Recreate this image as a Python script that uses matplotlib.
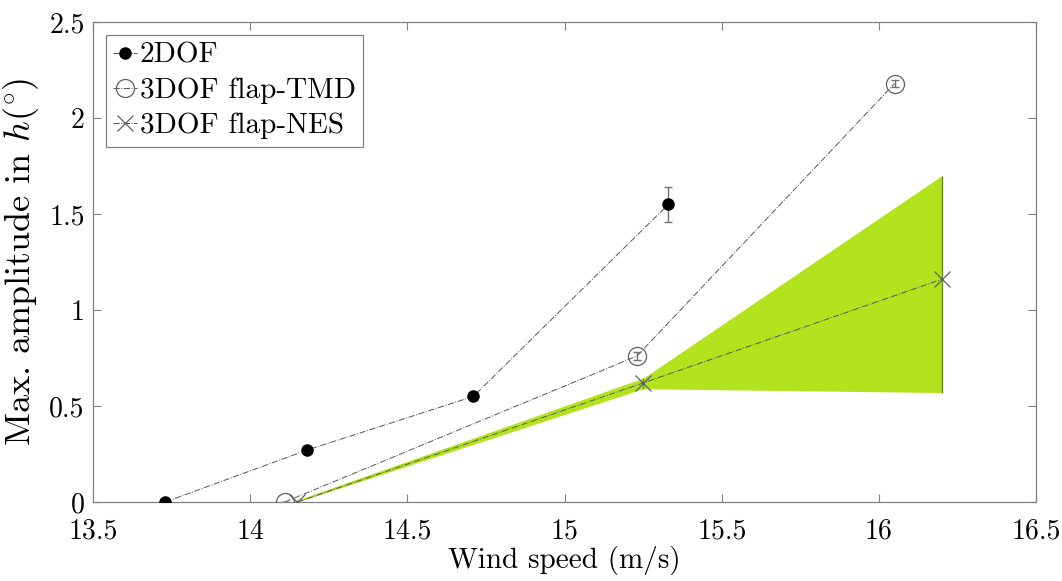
import matplotlib
matplotlib.use("Agg")
import matplotlib.pyplot as plt
import numpy as np

plt.rcParams["font.family"] = "serif"
plt.rcParams["font.serif"] = ["cmr10", "DejaVu Serif"]
plt.rcParams["mathtext.fontset"] = "cm"
plt.rcParams["axes.formatter.use_mathtext"] = True

# 2DOF
u_2dof = [13.73, 14.18, 14.71, 15.33]
h_2dof = [0.0, 0.27, 0.55, 1.55]
err_2dof = [0.0, 0.0, 0.0, 0.09]

# 3DOF flap-TMD
u_tmd = [14.11, 15.23, 16.05]
h_tmd = [0.0, 0.76, 2.18]
err_tmd = [0.0, 0.02, 0.02]

# 3DOF flap-NES
u_nes = [14.15, 15.25, 16.20]
h_nes = [0.0, 0.62, 1.16]
nes_low = [0.0, 0.59, 0.57]
nes_high = [0.01, 0.645, 1.70]

LINE = "#555555"
EDGE = "#606060"
FILL = "#b3e31e"

fig = plt.figure(figsize=(10.62, 5.81), dpi=100)
ax = fig.add_axes([0.0876, 0.136, 0.888, 0.826])

ax.fill_between(u_nes, nes_low, nes_high, color=FILL, linewidth=0, zorder=1)

err_nes_lo = np.array(h_nes) - np.array(nes_low)
err_nes_hi = np.array(nes_high) - np.array(h_nes)

ax.errorbar(u_2dof, h_2dof, yerr=err_2dof, fmt="none", ecolor="#707070",
            elinewidth=1, capsize=3, zorder=2)
ax.errorbar(u_tmd, h_tmd, yerr=err_tmd, fmt="none", ecolor="#707070",
            elinewidth=1, capsize=3, zorder=2)
ax.errorbar(u_nes, h_nes, yerr=[err_nes_lo, err_nes_hi], fmt="none",
            ecolor="#6a8a20", elinewidth=1, capsize=0, zorder=2)

ax.plot(u_2dof, h_2dof, linestyle="-.", color=LINE, linewidth=0.7,
        marker="o", markersize=8, markerfacecolor="black",
        markeredgecolor="black", label="2DOF", zorder=3)
ax.plot(u_tmd, h_tmd, linestyle="-.", color=LINE, linewidth=0.7,
        marker="o", markersize=13, markerfacecolor="none",
        markeredgecolor=EDGE, markeredgewidth=0.9,
        label="3DOF flap-TMD", zorder=3)
ax.plot(u_nes, h_nes, linestyle="-.", color=LINE, linewidth=0.7,
        marker="x", markersize=11, markeredgecolor=EDGE,
        markeredgewidth=0.9, label="3DOF flap-NES", zorder=3)

ax.set_xlim(13.5, 16.5)
ax.set_ylim(0, 2.5)
ax.set_xticks([13.5, 14, 14.5, 15, 15.5, 16, 16.5])
ax.set_xticklabels(["13.5", "14", "14.5", "15", "15.5", "16", "16.5"])
ax.set_yticks([0, 0.5, 1, 1.5, 2, 2.5])
ax.set_yticklabels(["0", "0.5", "1", "1.5", "2", "2.5"])

ax.tick_params(direction="in", top=True, right=True, length=6,
               color="#808080", labelsize=20)
ax.tick_params(axis="x", pad=12)
ax.tick_params(axis="y", pad=6)
for sp in ax.spines.values():
    sp.set_color("#808080")
    sp.set_linewidth(0.9)

ax.set_xlabel("Wind speed (m/s)", fontsize=21, labelpad=1)
ax.set_ylabel(r"Max. amplitude in $h(^{\circ})$", fontsize=26, labelpad=6)

leg = ax.legend(loc="upper left", fontsize=21, handlelength=0.8,
                handletextpad=0.1, borderpad=0.25, labelspacing=0.3,
                fancybox=False, framealpha=1, borderaxespad=0.45)
leg.get_frame().set_edgecolor("#808080")
leg.get_frame().set_linewidth(0.9)

fig.savefig("out.png", dpi=100)
